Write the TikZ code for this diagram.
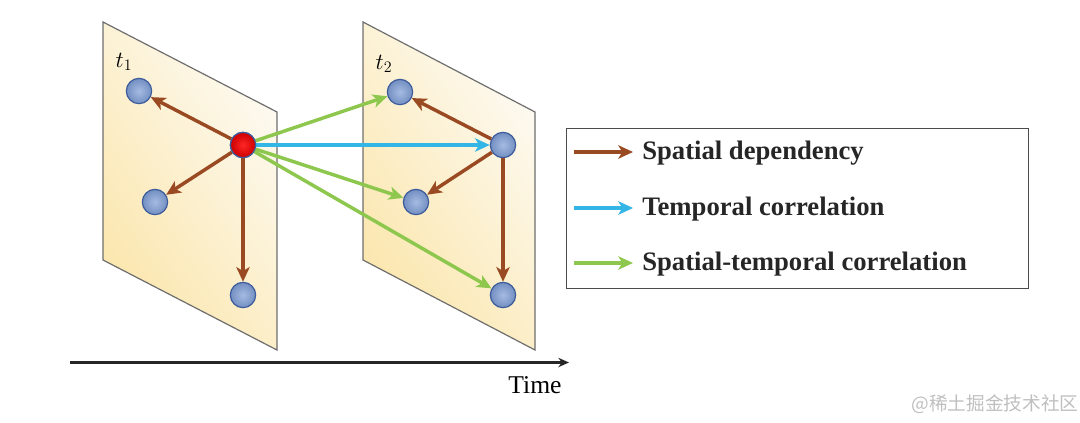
\documentclass[tikz,border=0pt]{standalone}
\usepackage{fontspec}
\setmainfont{Liberation Serif}
\newfontfamily\cjk{Noto Sans CJK SC}
\usetikzlibrary{arrows.meta}
\definecolor{brownarr}{HTML}{9A4A22}
\definecolor{bluearr}{HTML}{33B5E6}
\definecolor{greenarr}{HTML}{8DC74E}
\definecolor{nodefill}{HTML}{7F9ED6}
\definecolor{nodeedge}{HTML}{3D5C9C}
\definecolor{panelA}{HTML}{FBE6AC}
\definecolor{panelB}{HTML}{FDFAF2}
\definecolor{panelEdge}{HTML}{6E6E6E}
\tikzset{
  panel/.style={draw=panelEdge, line width=0.9pt, left color=panelA, right color=panelB, shading angle=125},
  vnode/.style={circle, minimum size=19pt, inner sep=0pt, draw=nodeedge, line width=0.9pt, inner color=nodefill!70!white, outer color=nodefill!90!black},
  rnode/.style={circle, minimum size=19pt, inner sep=0pt, draw=nodeedge, line width=0.9pt, inner color=red!85!white, outer color=red!80!black},
  tip/.style={-{Stealth[length=11pt,width=10pt,inset=3pt]}},
  sarrow/.style={tip, draw=brownarr, line width=2.6pt},
  tarrow/.style={tip, draw=bluearr, line width=2.6pt},
  starrow/.style={tip, draw=greenarr, line width=2.6pt},
  legtext/.style={anchor=west, font=\fontsize{20}{22}\selectfont\bfseries, text=black!85, inner sep=0pt},
}
\begin{document}
\begin{tikzpicture}[x=0.75pt,y=-0.75pt]
\useasboundingbox (0,0) rectangle (1080,422);
% panels
\path[panel] (103,22) -- (277,112) -- (277,350) -- (103,260) -- cycle;
\path[panel] (363,22) -- (535,112) -- (535,350) -- (363,260) -- cycle;
\node (lab1) at (124,62) {\fontsize{18}{18}\selectfont $t_1$};
\node (lab2) at (384,64) {\fontsize{18}{18}\selectfont $t_2$};
% nodes
\node[vnode] (a1) at (139,91) {};
\node[rnode] (a0) at (243,145) {};
\node[vnode] (a2) at (155,202) {};
\node[vnode] (a3) at (243,295) {};
\node[vnode] (b1) at (400,92) {};
\node[vnode] (b0) at (503,145) {};
\node[vnode] (b2) at (416,202) {};
\node[vnode] (b3) at (503,295) {};
% spatial arrows
\draw[sarrow] (a0) -- (a1);
\draw[sarrow] (a0) -- (a2);
\draw[sarrow] (a0) -- (a3);
\draw[sarrow] (b0) -- (b1);
\draw[sarrow] (b0) -- (b2);
\draw[sarrow] (b0) -- (b3);
% temporal / spatial-temporal
\draw[starrow] (a0) -- (b1);
\draw[starrow] (a0) -- (b2);
\draw[starrow] (a0) -- (b3);
\draw[tarrow] (a0) -- (b0);
% redraw red node on top
\node[rnode] at (a0) {};
% time axis
\coordinate (t0) at (70,362.5);
\coordinate (t1) at (569,362.5);
\draw[line width=1.8pt, black!85, -{Stealth[length=8pt,width=7pt]}] (t0) -- (t1);
\node (time) at (535,385) {\fontsize{19.2}{22}\selectfont Time};
% legend
\node[draw=black!70, line width=0.8pt, minimum width=346.5pt, minimum height=120pt, anchor=north west, inner sep=0pt] (legend) at (566,128) {};
\coordinate (l1a) at (574,152); \coordinate (l1b) at (633,152);
\coordinate (l2a) at (574,208); \coordinate (l2b) at (633,208);
\coordinate (l3a) at (574,263); \coordinate (l3b) at (633,263);
\draw[sarrow] (l1a) -- (l1b);
\draw[tarrow] (l2a) -- (l2b);
\draw[starrow] (l3a) -- (l3b);
\node[legtext] (lt1) at (642,153) {Spatial dependency};
\node[legtext] (lt2) at (642,209) {Temporal correlation};
\node[legtext] (lt3) at (642,264) {Spatial-temporal correlation};
% watermark
\node[text=black!25] (wm) at (995,404) {\cjk\fontsize{14}{16}\selectfont @稀土掘金技术社区};
\end{tikzpicture}
\end{document}
